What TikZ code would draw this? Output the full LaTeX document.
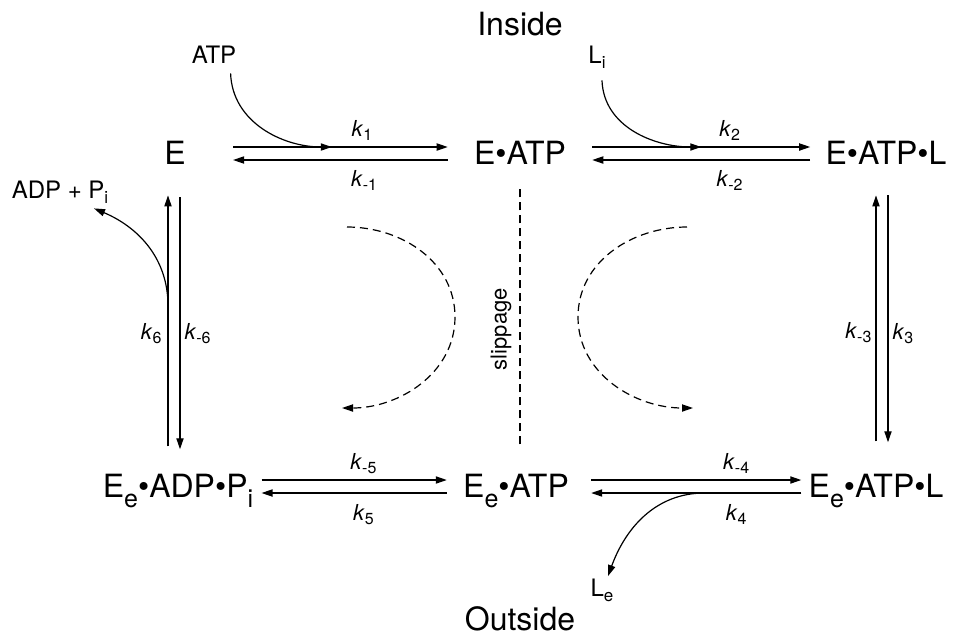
\documentclass[tikz,border=0pt]{standalone}
\usepackage{fontspec}
\setmainfont{TeX Gyre Heros}
\usetikzlibrary{arrows.meta,positioning}

\newcommand{\lowsub}[1]{\raisebox{-5pt}{\fontsize{12.5}{13}\selectfont #1}}
\newcommand{\smallsub}[1]{\raisebox{-2.5pt}{\fontsize{8.5}{9}\selectfont #1}}
\newcommand{\rate}[1]{\textit{k}\raisebox{-2pt}{\fontsize{8}{9}\selectfont #1}}

\begin{document}
\begin{tikzpicture}[
    x=0.5pt, y=0.5pt,
    species/.style={font=\fontsize{16}{19}\selectfont, inner sep=0pt, anchor=base},
    ligand/.style={font=\fontsize{12}{14}\selectfont, inner sep=1pt, anchor=base},
    ratelbl/.style={font=\fontsize{11}{13}\selectfont, inner sep=1pt},
    rxn/.style={line width=0.6pt, -{Triangle[length=5.5pt,width=3.6pt]}},
    turn/.style={rxn, dash pattern=on 4pt off 2.5pt},
    slip/.style={line width=0.6pt, dash pattern=on 4pt off 2.5pt}
]
    \useasboundingbox (0,0) rectangle (955,-634);

    % compartments
    \node[species] (inside) at (520,-35) {Inside};
    \node[species] (outside) at (520,-630) {Outside};

    % inward facing states
    \node[species] (E) at (175,-164) {E};
    \node[species] (EATP) at (520,-164) {E\textbullet ATP};
    \node[species] (EATPL) at (886,-164) {E\textbullet ATP\textbullet L};

    % outward facing states
    \node[species] (EeADP) at (178,-497) {E\lowsub{e}\textbullet ADP\textbullet P\lowsub{i}};
    \node[species] (EeATP) at (516,-497) {E\lowsub{e}\textbullet ATP};
    \node[species] (EeATPL) at (876,-497) {E\lowsub{e}\textbullet ATP\textbullet L};

    % ligands
    \node[ligand] (ATP) at (214,-63) {ATP};
    \node[ligand] (Li) at (597,-63) {L\smallsub{i}};
    \node[ligand] (ADP) at (60,-198) {ADP + P\smallsub{i}};
    \node[ligand] (Le) at (602,-596) {L\smallsub{e}};

    % step 1
    \draw[rxn] ([xshift=23.5pt,yshift=8.5pt]E.base east) -- coordinate[pos=0.46] (j1)
        node[ratelbl, above=2pt, pos=0.6] {\rate{1}} ([xshift=-13pt,yshift=8.5pt]EATP.base west);
    \draw[rxn] ([xshift=-13pt,yshift=2pt]EATP.base west) --
        node[ratelbl, below=4pt, pos=0.39] {\rate{-1}} ([xshift=23.5pt,yshift=2pt]E.base east);
    \draw[rxn] ([xshift=-4pt,yshift=-4pt]ATP.south east) to[out=-88,in=180] (j1);

    % step 2
    \draw[rxn] ([xshift=13pt,yshift=8.5pt]EATP.base east) -- coordinate[pos=0.5] (j2)
        node[ratelbl, above=2pt, pos=0.63] {\rate{2}} ([xshift=-7.5pt,yshift=8.5pt]EATPL.base west);
    \draw[rxn] ([xshift=-7.5pt,yshift=2pt]EATPL.base west) --
        node[ratelbl, below=4pt, pos=0.37] {\rate{-2}} ([xshift=13pt,yshift=2pt]EATP.base east);
    \draw[rxn] ([xshift=2.5pt,yshift=-5pt]Li.south) to[out=-88,in=180] (j2);

    % step 3
    \draw[rxn] ([xshift=-5pt,yshift=16pt]EATPL.south |- EeATPL.north) --
        node[ratelbl, left=1pt, pos=0.44] {\rate{-3}} ([xshift=-5pt,yshift=-15.5pt]EATPL.south);
    \draw[rxn] ([xshift=1pt,yshift=-15.5pt]EATPL.south) --
        node[ratelbl, right=1pt, pos=0.56] {\rate{3}} ([xshift=1pt,yshift=15.5pt]EATPL.south |- EeATPL.north);

    % step 4
    \draw[rxn] ([xshift=11pt,yshift=8.5pt]EeATP.base east) --
        node[ratelbl, above=2pt, pos=0.69] {\rate{-4}} ([xshift=-3.5pt,yshift=8.5pt]EeATPL.base west);
    \draw[rxn] ([xshift=-3.5pt,yshift=2pt]EeATPL.base west) -- coordinate[pos=0.46] (j3)
        node[ratelbl, below=4.5pt, pos=0.31] {\rate{4}} ([xshift=11pt,yshift=2pt]EeATP.base east);
    \draw[rxn] (j3) to[out=180,in=70] ([xshift=3pt]Le.north);

    % step 5
    \draw[rxn] ([xshift=4pt,yshift=8.5pt]EeADP.base east) --
        node[ratelbl, above=2pt, pos=0.55] {\rate{-5}} ([xshift=-8pt,yshift=8.5pt]EeATP.base west);
    \draw[rxn] ([xshift=-8pt,yshift=2pt]EeATP.base west) --
        node[ratelbl, below=4.5pt, pos=0.45] {\rate{5}} ([xshift=4pt,yshift=2pt]EeADP.base east);

    % step 6
    \draw[rxn] ([xshift=-3.5pt,yshift=13.5pt]E.south |- EeADP.north) -- coordinate[pos=0.56] (j4)
        node[ratelbl, left=2pt, pos=0.45] {\rate{6}} ([xshift=-3.5pt,yshift=-15.5pt]E.south);
    \draw[rxn] ([xshift=2.5pt,yshift=-16.5pt]E.south) --
        node[ratelbl, right=1pt, pos=0.54] {\rate{-6}} ([xshift=2.5pt,yshift=12pt]E.south |- EeADP.north);
    \draw[rxn] (j4) to[out=90,in=-23] ([xshift=17pt,yshift=-1.5pt]ADP.south);

    % slippage
    \draw[slip] ([yshift=14.5pt]EATP.south |- EeATP.north) --
        node[ratelbl, sloped, above=3pt, pos=0.45] {slippage} ([yshift=-12pt]EATP.south);

    % cycle direction
    \draw[turn] (347,-227) to[out=0,in=90] (455,-317) to[out=-90,in=0] (342,-408);
    \draw[turn] (687,-227) to[out=180,in=90] (578,-317) to[out=-90,in=180] (693,-408);

\end{tikzpicture}
\end{document}
